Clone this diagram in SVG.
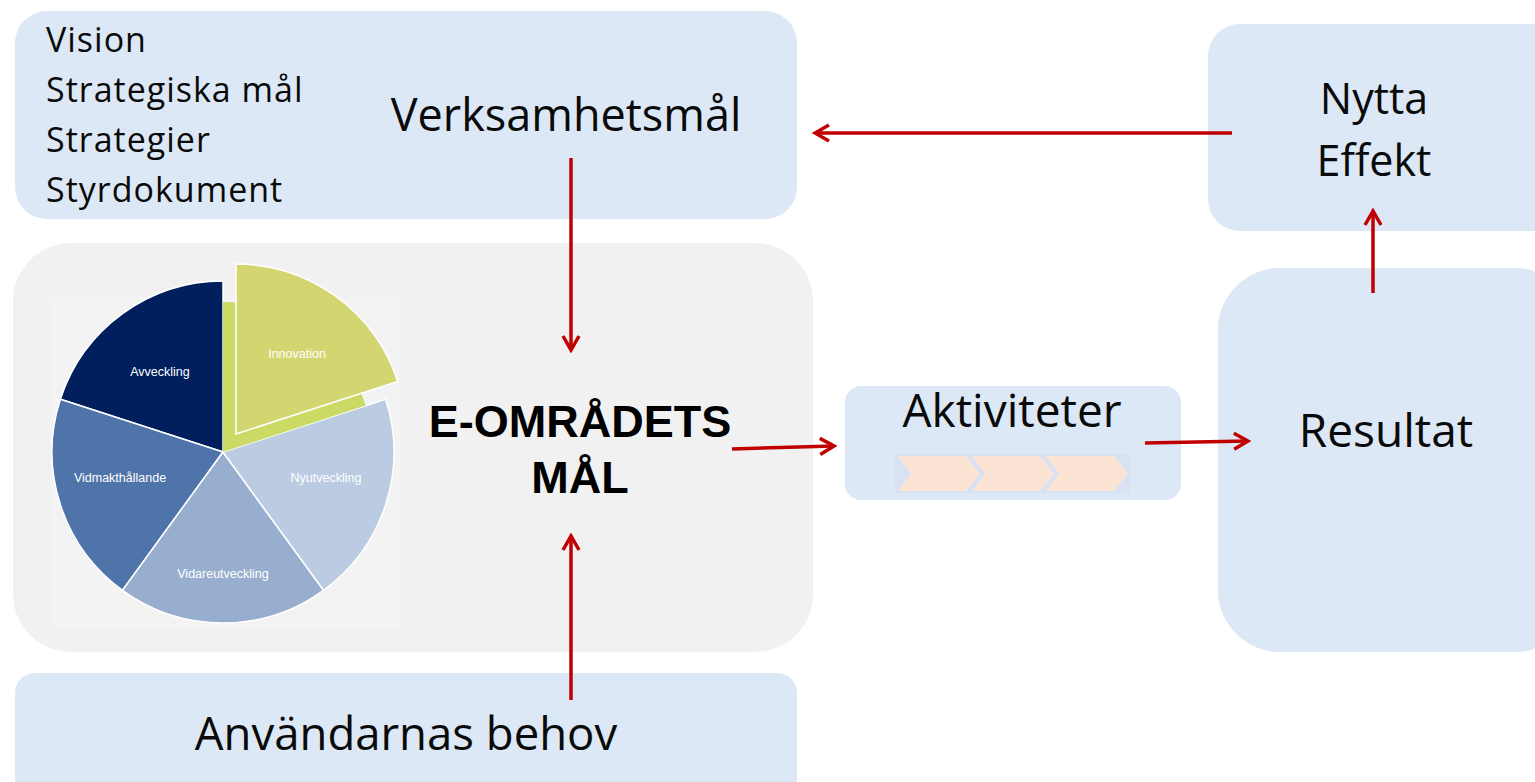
<svg xmlns="http://www.w3.org/2000/svg" width="1535" height="782" viewBox="0 0 1535 782">
<style>
.box{fill:#DCE8F5}
.t{font-family:"Open Sans","Noto Sans",sans-serif;fill:#0a0a0a}
.li{font-size:34px;letter-spacing:1px}
.pl{font-family:"Liberation Sans",Arial,sans-serif;font-size:12.5px;fill:#fff;text-anchor:middle}
.c{stroke:#C00000;stroke-width:3.5;fill:none}
.sl{stroke:#fff;stroke-width:1.5}
.em{font-family:"Liberation Sans",Arial,sans-serif;font-weight:bold;font-size:45px;text-anchor:middle;fill:#000}
</style>
<defs>
<marker id="ah" viewBox="0 0 20 20" refX="17" refY="10" markerWidth="20" markerHeight="20" markerUnits="userSpaceOnUse" orient="auto">
<path d="M3,2 L17,10 L3,18" fill="none" stroke="#C00000" stroke-width="3.5"/>
</marker>
</defs>
<rect width="1535" height="782" fill="#fff"/>

<g id="verksamhet">
<rect class="box" x="15" y="11" width="782" height="208" rx="32"/>
<text class="t li" x="46" y="52">Vision</text>
<text class="t li" x="46" y="102">Strategiska mål</text>
<text class="t li" x="46" y="152">Strategier</text>
<text class="t li" x="46" y="202">Styrdokument</text>
<text class="t" x="566" y="131" font-size="45" text-anchor="middle">Verksamhetsmål</text>
</g>

<g id="nytta">
<rect class="box" x="1208" y="24" width="360" height="207" rx="32"/>
<text class="t" x="1374" y="114" font-size="43" text-anchor="middle">Nytta</text>
<text class="t" x="1374" y="176" font-size="43" text-anchor="middle">Effekt</text>
</g>

<g id="emal">
<rect x="13" y="243" width="800" height="409" rx="58" fill="#F1F1F1"/>
<rect x="52" y="298" width="350" height="330" fill="#F3F3F3"/>
<g id="pie">
<path d="M223,452 L223,281 A171,171 0 0 0 60.4,399.2 Z" fill="#001F5C" class="sl"/>
<path d="M223,452 L60.4,399.2 A171,171 0 0 0 122.5,590.3 Z" fill="#4F74AA" class="sl"/>
<path d="M223,452 L122.5,590.3 A171,171 0 0 0 323.5,590.3 Z" fill="#98AECE" class="sl"/>
<path d="M223,452 L323.5,590.3 A171,171 0 0 0 385.6,399.2 Z" fill="#BBCCE2" class="sl"/>
<path d="M223,452 L223,302 A150,150 0 0 1 365.7,405.6 Z" fill="#CBDA64"/>
<path d="M236,434 L236,264 A170,170 0 0 1 397.7,381.5 Z" fill="#D3D670" class="sl"/>
<text class="pl" x="297" y="358">Innovation</text>
<text class="pl" x="160" y="376">Avveckling</text>
<text class="pl" x="120" y="482">Vidmakthållande</text>
<text class="pl" x="326" y="482">Nyutveckling</text>
<text class="pl" x="223" y="578">Vidareutveckling</text>
</g>
<text class="em" x="580" y="437">E-OMRÅDETS</text>
<text class="em" x="580" y="493">MÅL</text>
</g>

<g id="aktiviteter">
<rect class="box" x="845" y="386" width="336" height="114" rx="16"/>
<text class="t" x="1012" y="427" font-size="46" text-anchor="middle">Aktiviteter</text>
<rect x="895" y="454" width="235" height="39" fill="#D8E2F2"/>
<path d="M898,456 L966,456 L980,474 L966,491 L898,491 L911,474 Z" fill="#FBE4D4"/>
<path d="M972,456 L1040,456 L1054,474 L1040,491 L972,491 L985,474 Z" fill="#FBE4D4"/>
<path d="M1046,456 L1114,456 L1128,474 L1114,491 L1046,491 L1059,474 Z" fill="#FBE4D4"/>
</g>

<g id="resultat">
<rect class="box" x="1218" y="268" width="360" height="384" rx="62"/>
<text class="t" x="1386" y="447" font-size="46" text-anchor="middle">Resultat</text>
</g>

<g id="behov">
<rect class="box" x="15" y="673" width="782" height="140" rx="20"/>
<text class="t" x="406" y="750" font-size="45.5" text-anchor="middle">Användarnas behov</text>
</g>

<g id="connectors">
<line class="c" x1="1232" y1="133" x2="815" y2="133" marker-end="url(#ah)"/>
<line class="c" x1="571" y1="158" x2="571" y2="350" marker-end="url(#ah)"/>
<line class="c" x1="571" y1="700" x2="571" y2="536" marker-end="url(#ah)"/>
<line class="c" x1="732" y1="449" x2="834" y2="446" marker-end="url(#ah)"/>
<line class="c" x1="1145" y1="443" x2="1248" y2="441" marker-end="url(#ah)"/>
<line class="c" x1="1373" y1="293" x2="1373" y2="211" marker-end="url(#ah)"/>
</g>
</svg>
